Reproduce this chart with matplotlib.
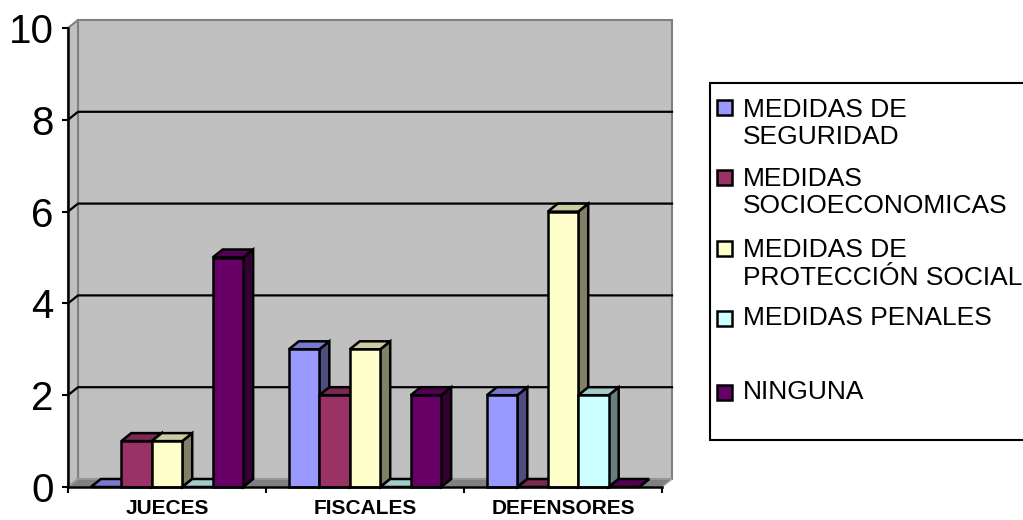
import matplotlib
matplotlib.use("Agg")
import matplotlib.pyplot as plt
from matplotlib.patches import Polygon, Rectangle
import numpy as np

plt.rcParams['font.family'] = ['Liberation Sans', 'DejaVu Sans']

categories = ['JUECES', 'FISCALES', 'DEFENSORES']
series_names = ['MEDIDAS DE\nSEGURIDAD', 'MEDIDAS\nSOCIOECONOMICAS',
                'MEDIDAS DE\nPROTECCIÓN SOCIAL', 'MEDIDAS PENALES', 'NINGUNA']
seguridad = [0, 3, 2]
socioeconomicas = [1, 2, 0]
proteccion = [1, 3, 6]
penales = [0, 0, 2]
ninguna = [5, 2, 0]
series_values = [seguridad, socioeconomicas, proteccion, penales, ninguna]
colors = ['#9999FF', '#993366', '#FFFFCC', '#CCFFFF', '#660066']
y_ticks = [0, 2, 4, 6, 8, 10]

W, H = 1023, 520
fig = plt.figure(figsize=(W / 100, H / 100), dpi=100)

# front plane of the plot area, in pixels
x0, x1, y0, y1 = 68, 662, 487, 28
ax = fig.add_axes([x0 / W, 1 - y0 / H, (x1 - x0) / W, (y0 - y1) / H])
ax.set_xlim(0, 3)
ax.set_ylim(0, 10)
ax.patch.set_alpha(0)

# depth offset (10 px right, 8 px up) expressed in data units
dx = 10 * 3 / (x1 - x0)
dy = 8 * 10 / (y0 - y1)


def poly(pts, fc, ec, lw, z):
    ax.add_patch(Polygon(pts, closed=True, facecolor=fc, edgecolor=ec,
                         linewidth=lw, zorder=z, clip_on=False,
                         joinstyle='miter'))


def shade(c, f):
    r, g, b = matplotlib.colors.to_rgb(c)
    return (r * f, g * f, b * f)


# walls and floor
poly([(dx, dy), (3 + dx, dy), (3 + dx, 10 + dy), (dx, 10 + dy)], '#C0C0C0', '#808080', 1.5, 0.5)
poly([(0, 0), (dx, dy), (dx, 10 + dy), (0, 10)], '#C0C0C0', '#808080', 1.5, 0.6)
poly([(0, 0), (3, 0), (3 + dx, dy), (dx, dy)], '#808080', '#A0A0A0', 1.0, 0.7)

# gridlines on back and side walls
for t in y_ticks[1:-1]:
    ax.plot([0, dx, 3 + dx], [t, t + dy, t + dy], color='black', lw=1.6,
            zorder=0.8, clip_on=False, solid_joinstyle='miter')

# bars
n = len(series_values)
bw = 1 / 6.5
for i in range(len(categories)):
    for s in range(n):
        v = series_values[s][i]
        xl = i + 0.75 * bw + s * bw
        xr = xl + bw
        c = colors[s]
        z = 3 + i * 10 + s
        poly([(xr, 0), (xr + dx, dy), (xr + dx, v + dy), (xr, v)], shade(c, 0.5), 'black', 1.8, z)
        poly([(xl, v), (xr, v), (xr + dx, v + dy), (xl + dx, v + dy)], shade(c, 0.8), 'black', 1.8, z)
        if v > 0:
            poly([(xl, 0), (xr, 0), (xr, v), (xl, v)], c, 'black', 1.8, z)

# axes
for side in ['top', 'right']:
    ax.spines[side].set_visible(False)
for side in ['left', 'bottom']:
    ax.spines[side].set_linewidth(1.8)
    ax.spines[side].set_zorder(50)
ax.set_yticks(y_ticks)
ax.set_yticklabels([str(t) for t in y_ticks], fontsize=29)
ax.tick_params(axis='y', length=4.5, width=1.5, pad=6)
ax.set_xticks([0, 1, 2, 3])
ax.set_xticklabels([])
ax.tick_params(axis='x', which='major', length=4.5, width=1.5)
ax.set_xticks([0.5, 1.5, 2.5], minor=True)
ax.set_xticklabels(categories, minor=True, fontsize=15, fontweight='bold')
ax.tick_params(axis='x', which='minor', length=0, pad=9)

# legend
fig.patches.append(Rectangle((710 / W, 1 - 440 / H), 0.35, (440 - 83) / H,
                             transform=fig.transFigure, facecolor='white',
                             edgecolor='black', linewidth=1.5, zorder=1))
first_line = [107, 177, 248, 318, 392]
block_center = [123.5, 192.5, 264, 318, 392]
for s in range(n):
    fig.patches.append(Rectangle((717 / W, 1 - (first_line[s] + 7.5) / H), 15 / W, 15 / H,
                                 transform=fig.transFigure, facecolor=colors[s],
                                 edgecolor='black', linewidth=1.8, zorder=2))
    fig.text(743 / W, 1 - block_center[s] / H, series_names[s], fontsize=19,
             va='center', ha='left', linespacing=1.2, zorder=3)

fig.savefig('out.png', dpi=100, facecolor='white')
